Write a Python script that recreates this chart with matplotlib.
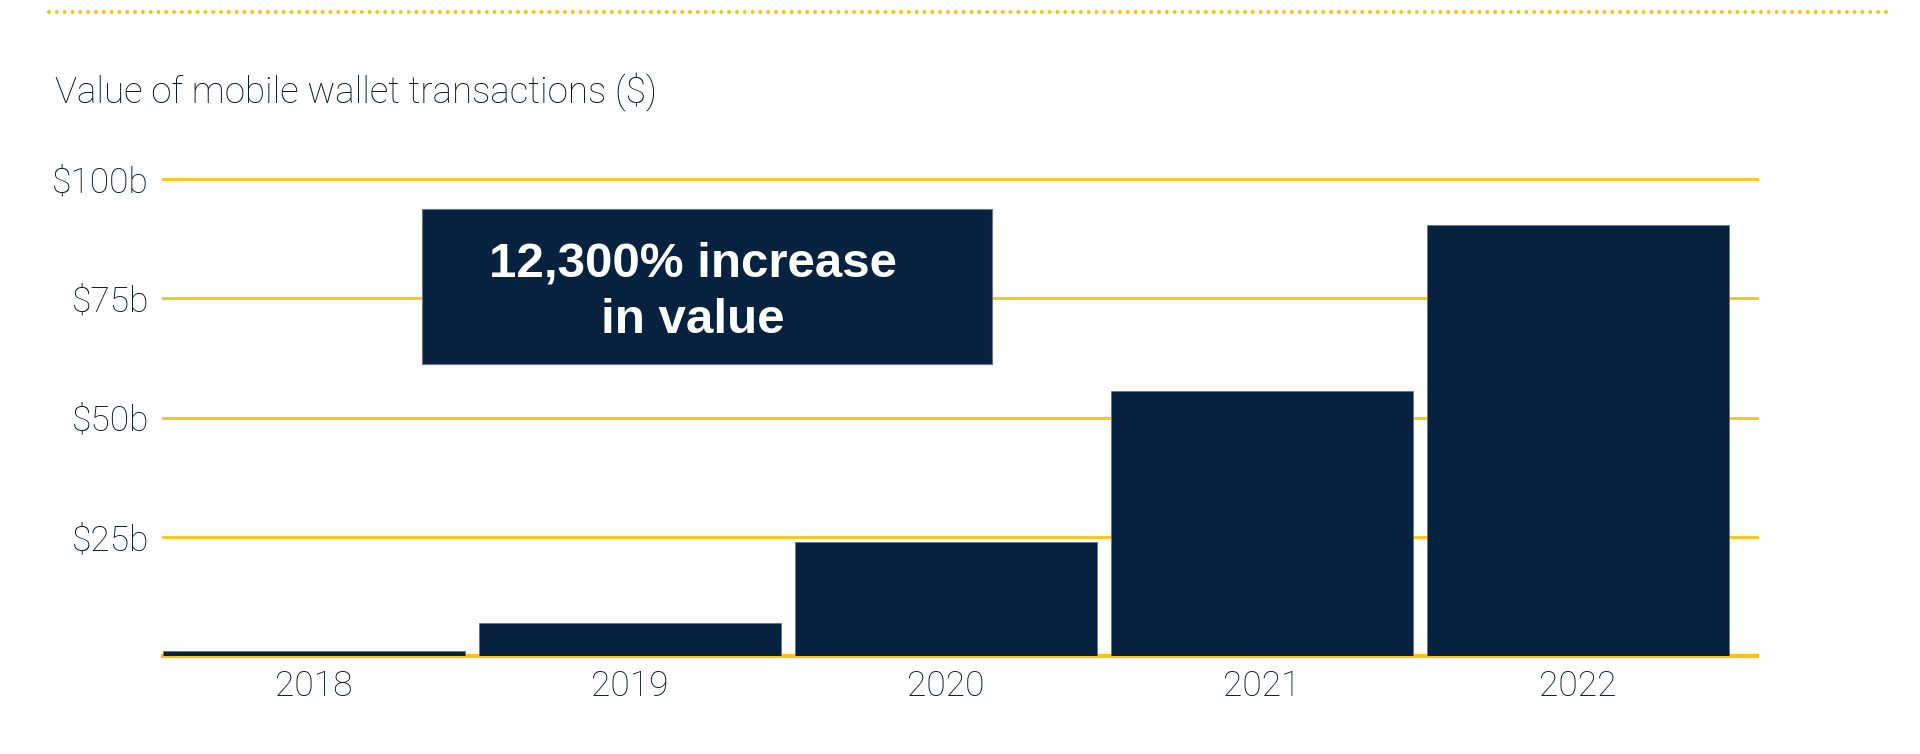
import matplotlib
matplotlib.use("Agg")
import matplotlib.pyplot as plt
from matplotlib.patches import Rectangle
from matplotlib.lines import Line2D

years = ["2018", "2019", "2020", "2021", "2022"]
values_b = [1.0, 6.9, 24.0, 55.5, 90.3]
ytick_values = [25, 50, 75, 100]
ytick_labels = ["$25b", "$50b", "$75b", "$100b"]
title_text = "Value of mobile wallet transactions ($)"
callout_text = "12,300% increase\nin value"

NAVY = "#07223f"
TEXT = "#041429"
GOLD = "#ffc20e"

W, H = 1920, 754
fig = plt.figure(figsize=(W / 100, H / 100), dpi=100)
fig.patch.set_facecolor("white")

left, right = 163 / W, 1757 / W
bottom, top = 1 - 656 / H, 1 - 179 / H
ax = fig.add_axes([left, bottom, right - left, top - bottom])

x = list(range(len(years)))
ax.bar(x, values_b, width=0.955, color=NAVY, edgecolor="#6b7280",
       linewidth=0.6, zorder=3)

ax.set_xlim(-0.478, 4.566)
ax.set_ylim(0, 100)

for v in ytick_values:
    ax.axhline(v, color=GOLD, linewidth=2.0, zorder=1, clip_on=False)
ax.axhline(0, color=GOLD, linewidth=3.0, zorder=2, clip_on=False)

for s in ax.spines.values():
    s.set_visible(False)

font_light = dict(family=["Roboto", "DejaVu Sans"], weight="light")

ax.set_yticks(ytick_values)
ax.set_yticklabels(ytick_labels, fontsize=25.5, color=TEXT, **font_light)
ax.set_xticks(x)
ax.set_xticklabels(years, fontsize=25.5, color=TEXT, **font_light)
ax.tick_params(axis="y", length=0, pad=10)
ax.tick_params(axis="x", length=0, pad=10)

# callout box
bx0, bx1 = 0.342, 2.146
by0, by1 = 61.2, 93.7
ax.add_patch(Rectangle((bx0, by0), bx1 - bx0, by1 - by0, facecolor=NAVY,
                       edgecolor="#6b7280", linewidth=0.8, zorder=5))
ax.text((bx0 + bx1) / 2 - 0.045, (by0 + by1) / 2 - 1.1, callout_text,
        ha="center", va="center", color="white", fontsize=35.5,
        fontweight="bold", family=["Liberation Sans", "DejaVu Sans"],
        linespacing=1.33, zorder=6)

# title
fig.text(55 / W, 1 - 92 / H, title_text, ha="left", va="center",
         fontsize=26.5, color=TEXT, **font_light)

# dotted top rule
fig.add_artist(Line2D([49 / W, 1892 / W], [1 - 12 / H, 1 - 12 / H],
                      transform=fig.transFigure, color="#f5c400",
                      linewidth=2.8, linestyle=(0, (0.01, 2.0)),
                      dash_capstyle="round"))

fig.savefig("out.png", dpi=100)
